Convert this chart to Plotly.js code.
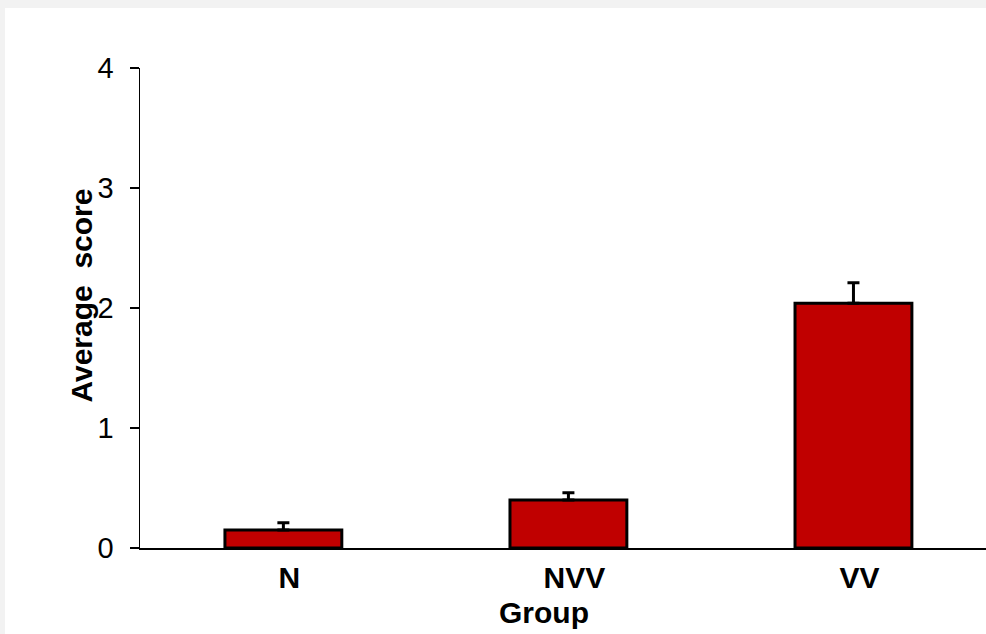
<!DOCTYPE html>
<html>
<head>
<meta charset="utf-8">
<script src="https://cdn.plot.ly/plotly-3.0.1.min.js"></script>
<style>
  html, body { margin: 0; padding: 0; background: #f2f2f2; width: 986px; height: 634px; overflow: hidden; }
  #chart { position: absolute; left: 5px; top: 8px; width: 981px; height: 626px; }
</style>
</head>
<body>
<div id="chart"></div>
<script>
const groups = ["N", "NVV", "VV"];
const averageScore = [0.15, 0.40, 2.04];
const errorUp = [0.06, 0.06, 0.17];
const yTicks = [0, 1, 2, 3, 4];
const xTitle = "Group";
const yTitle = "Average\u00a0\u00a0score";

const trace = {
  type: "bar",
  x: groups,
  y: averageScore,
  width: 0.41,
  marker: { color: "#c00000", line: { color: "#000000", width: 3 } },
  error_y: {
    type: "data",
    symmetric: false,
    array: errorUp,
    arrayminus: [0, 0, 0],
    color: "#000000",
    thickness: 3,
    width: 6
  },
  hoverinfo: "none"
};

const layout = {
  width: 981,
  height: 626,
  margin: { l: 135, r: 0, t: 60, b: 86 },
  paper_bgcolor: "#ffffff",
  plot_bgcolor: "#ffffff",
  showlegend: false,
  font: { family: "Liberation Sans, Arial, sans-serif", color: "#000000" },
  xaxis: {
    type: "category",
    range: [-0.503, 2.465],
    showline: true,
    linecolor: "#000000",
    linewidth: 1.5,
    ticks: "",
    showgrid: false,
    zeroline: false,
    tickfont: { size: 30, weight: "bold" },
    ticklabelstandoff: 2,
    ticklabelshift: 6
  },
  yaxis: {
    range: [0, 4],
    tickvals: yTicks,
    showline: true,
    linecolor: "#000000",
    linewidth: 1.5,
    ticks: "outside",
    ticklen: 9,
    tickwidth: 1.5,
    tickcolor: "#000000",
    showgrid: false,
    zeroline: false,
    tickfont: { size: 29 },
    ticklabelstandoff: 10
  },
  annotations: [
    {
      text: xTitle, xref: "paper", yref: "paper", x: 0.4775, y: -0.134,
      xanchor: "center", yanchor: "middle", showarrow: false,
      font: { size: 30, weight: "bold" }
    },
    {
      text: yTitle, xref: "paper", yref: "paper", x: -0.0697, y: 0.526,
      xanchor: "center", yanchor: "middle", showarrow: false, textangle: -90,
      font: { size: 30, weight: "bold" }
    }
  ]
};

Plotly.newPlot("chart", [trace], layout, { displayModeBar: false, staticPlot: true });
</script>
</body>
</html>
